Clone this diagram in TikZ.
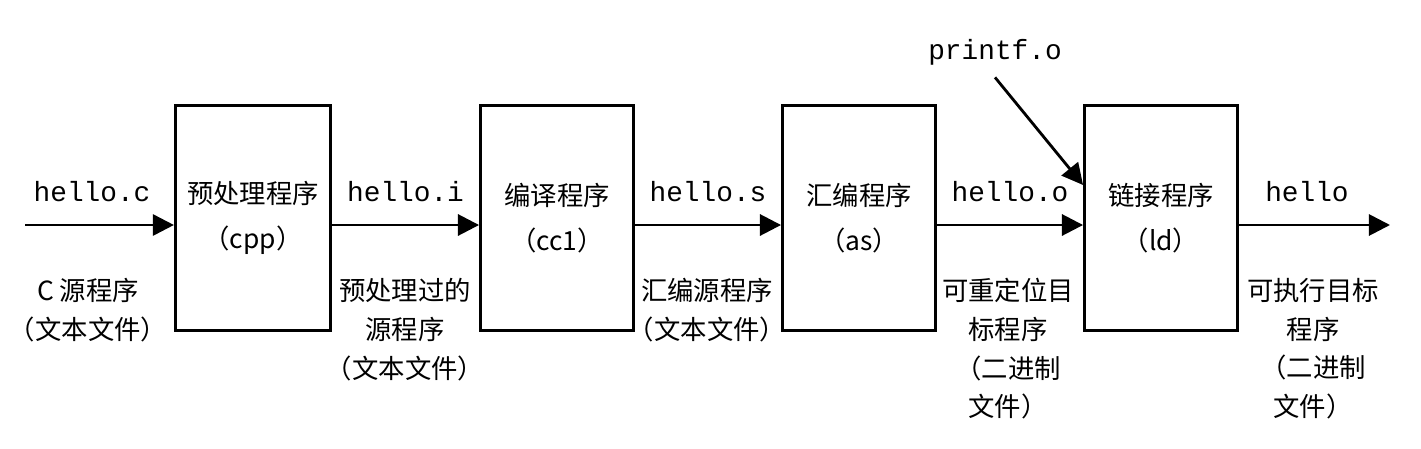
\documentclass[tikz,border=0pt]{standalone}
\usepackage{fontspec}
\newfontfamily\cjk{Noto Sans CJK SC}
\setmonofont{Liberation Mono}
\usetikzlibrary{arrows.meta,positioning}
\tikzset{
  prog/.style={draw,thick,minimum width=1.53cm,minimum height=2.25cm,align=center,font=\cjk\fontsize{7.5}{12}\selectfont},
  file/.style={font=\ttfamily\fontsize{7.9}{10}\selectfont},
  note/.style={align=center,font=\cjk\fontsize{7.5}{11}\selectfont,anchor=north},
  flow/.style={->,thick,>={Triangle[length=6pt,width=6pt]}}
}
\begin{document}
\begin{tikzpicture}[x=0.01cm,y=-0.01cm]
  \useasboundingbox (0,0) rectangle (1421,448);

  \node[prog] (cpp) at (253,218) {预处理程序\\[1pt]（cpp）};
  \node[prog] (cc1) at (557,218) {编译程序\\[1pt]（cc1）};
  \node[prog] (as)  at (859,218) {汇编程序\\[1pt]（as）};
  \node[prog] (ld)  at (1161,218) {链接程序\\[1pt]（ld）};

  \coordinate (in) at (25,225);
  \coordinate (out) at (1390,225);
  \node[file] (pf) at (995,52) {printf.o};

  \draw[flow] (in) -- node[file,above=3pt,pos=0.45]{hello.c} (cpp.west |- in);
  \draw[flow] (cpp.east |- in) -- node[file,above=3pt]{hello.i} (cc1.west |- in);
  \draw[flow] (cc1.east |- in) -- node[file,above=3pt]{hello.s} (as.west |- in);
  \draw[flow] (as.east |- in) -- node[file,above=3pt]{hello.o} (ld.west |- in);
  \draw[flow] (ld.east |- in) -- node[file,above=3pt,pos=0.45]{hello} (out);
  \draw[flow] (pf.south) -- (ld.west |- 0,185);

  \node[note] (n1) at (88,266) {C 源程序\\（文本文件）};
  \node[note] (n2) at (405,266) {预处理过的\\源程序\\（文本文件）};
  \node[note] (n3) at (707,266) {汇编源程序\\（文本文件）};
  \node[note] (n4) at (1008,266) {可重定位目\\标程序\\（二进制\\文件）};
  \node[note] (n5) at (1313,266) {可执行目标\\程序\\（二进制\\文件）};
\end{tikzpicture}
\end{document}
